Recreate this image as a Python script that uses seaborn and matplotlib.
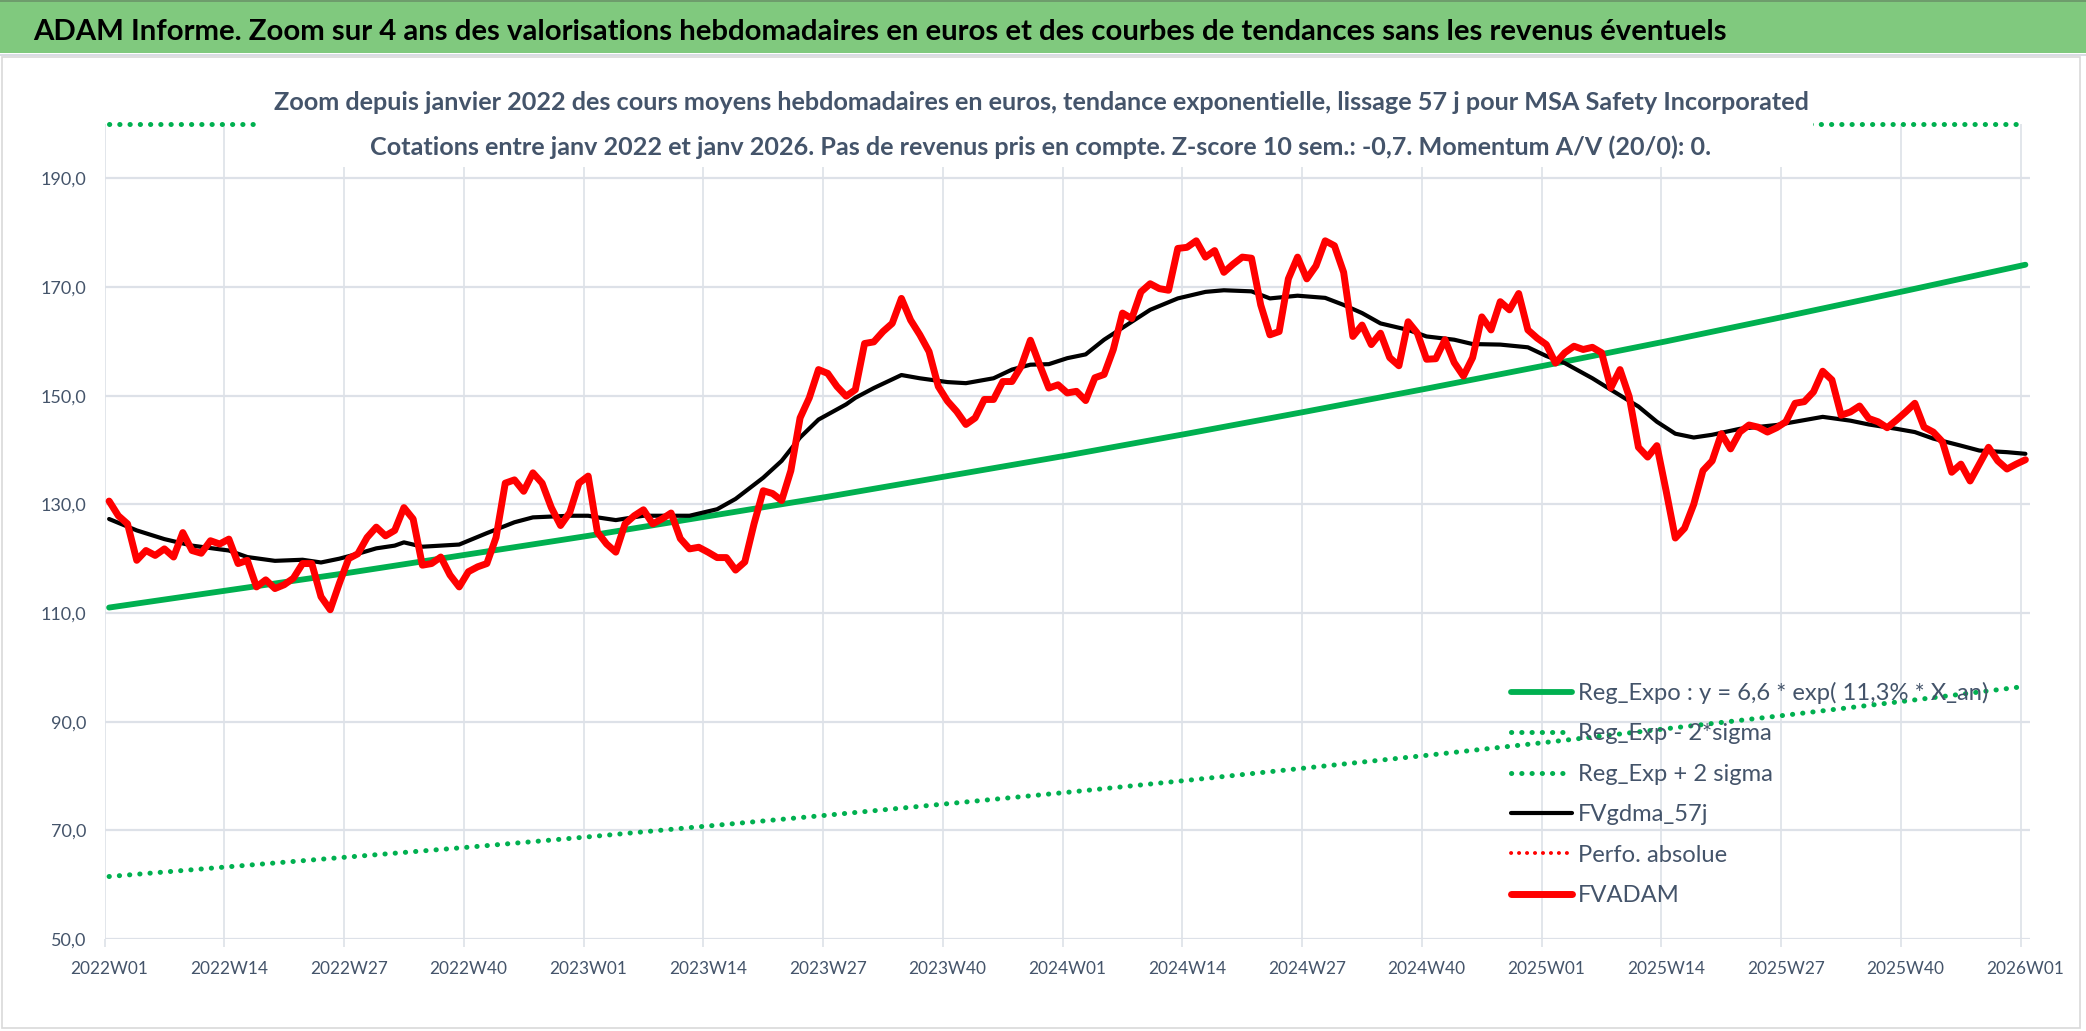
import numpy as np
import matplotlib
matplotlib.use("Agg")
import matplotlib.pyplot as plt
import seaborn as sns
from matplotlib.patches import Rectangle
from matplotlib.lines import Line2D
from matplotlib.ticker import FuncFormatter

# Etiquettes de l'axe des semaines (une toutes les 13 semaines)
tick_labels = ['2022W01', '2022W14', '2022W27', '2022W40', '2023W01', '2023W14', '2023W27',
               '2023W40', '2024W01', '2024W14', '2024W27', '2024W40', '2025W01', '2025W14',
               '2025W27', '2025W40', '2026W01']

# FVADAM : cours moyens hebdomadaires (semaines 0 a 208)
fvadam = [130.6, 127.9, 126.4, 119.7, 121.5, 120.6, 121.8, 120.3, 124.8, 121.5,
          121.0, 123.3, 122.7, 123.6, 119.1, 119.7, 114.8, 116.1, 114.5, 115.2,
          116.4, 119.1, 119.1, 113.0, 110.6, 115.5, 120.0, 120.9, 123.9, 125.8,
          124.2, 125.2, 129.4, 127.3, 118.8, 119.1, 120.3, 117.0, 114.8, 117.6,
          118.5, 119.1, 123.9, 133.9, 134.5, 132.4, 135.8, 133.9, 129.4, 126.1,
          128.5, 133.9, 135.2,
          124.9, 122.7, 121.2, 126.4, 127.9, 129.0, 126.4, 127.3, 128.4, 123.7,
          121.8, 122.1, 121.2, 120.2, 120.2, 117.9, 119.4, 126.4, 132.5, 132.0,
          130.7, 136.2, 145.9, 149.6, 154.8, 154.1, 151.7, 149.9, 151.1, 159.6,
          159.9, 161.8, 163.3, 167.9, 163.9, 161.2, 158.1, 151.7, 149.0, 147.1,
          144.7, 145.9, 149.3, 149.3, 152.6, 152.6, 155.4, 160.2, 155.7, 151.4,
          152.0, 150.5,
          150.8, 149.1, 153.3, 153.9, 158.5, 165.2, 164.2, 169.1, 170.6, 169.7,
          169.4, 177.1, 177.3, 178.5, 175.5, 176.7, 172.7, 174.2, 175.5, 175.3,
          166.7, 161.2, 161.8, 171.5, 175.5, 171.5, 173.9, 178.5, 177.6, 172.7,
          160.9, 163.0, 159.4, 161.5, 157.0, 155.5, 163.6, 161.5, 156.7, 156.8,
          160.3, 156.1, 153.6, 157.0, 164.5, 162.1, 167.3, 165.8, 168.8, 162.1,
          160.6, 159.4,
          156.0, 157.9, 159.1, 158.5, 158.9, 157.9, 151.4, 154.8, 149.8, 140.5,
          138.7, 140.8, 132.5, 123.8, 125.6, 130.0, 136.2, 138.0, 143.0, 140.2,
          143.3, 144.6, 144.2, 143.3, 144.1, 145.2, 148.6, 148.9, 150.7, 154.5,
          152.9, 146.4, 147.0, 148.1, 145.8, 145.2, 144.1, 145.5, 147.0, 148.6,
          144.2, 143.3, 141.5, 135.9, 137.4, 134.3, 137.4, 140.5, 138.0, 136.5,
          137.4, 138.2]

# FVgdma_57j : moyenne lissee (semaines)
gdma_weeks = [0, 3, 6, 9, 13, 15, 18, 21, 23, 25, 27, 29, 31, 32, 34, 38, 39, 41, 44, 46, 50, 52,
              53, 55, 58, 63, 66, 68, 71, 73, 75, 77, 80, 81, 83, 85, 86, 88, 91, 93, 96, 98,
              100, 102, 104, 106, 108, 111, 113, 116, 119, 121, 124, 126, 129, 132, 134, 136,
              138, 141, 143, 146, 148, 151, 154, 156, 158, 161, 163, 166, 168, 170, 172, 174,
              177, 181, 183, 186, 189, 191, 194, 196, 198, 201, 203, 206, 208]
gdma_vals = [127.3, 125.2, 123.6, 122.4, 121.5, 120.3, 119.6, 119.8, 119.3, 120.0, 120.9, 121.9,
             122.4, 123.0, 122.2, 122.6, 123.3, 124.7, 126.7, 127.6, 127.9, 127.9,
             127.6, 127.1, 127.9, 127.9, 129.1, 131.0, 134.9, 138.0, 142.3, 145.6, 148.4,
             149.6, 151.4, 153.0, 153.8, 153.2, 152.5, 152.3, 153.2, 154.8, 155.7, 155.8,
             156.9, 157.6, 160.3, 163.6, 165.8, 167.9, 169.1, 169.4, 169.2, 167.9, 168.4,
             168.0, 166.7, 165.2, 163.3, 162.1, 160.9, 160.3, 159.5, 159.4, 158.9, 157.3,
             156.0, 153.2, 151.1, 148.0, 145.2, 143.0, 142.3, 142.8, 143.9, 144.6, 145.2,
             146.1, 145.4, 144.7, 143.9, 143.3, 142.1, 140.8, 139.9, 139.6, 139.3]

# Regression exponentielle et bandes +/- 2 sigma, relevees a chaque etiquette
reg_expo = [111.0, 114.2, 117.4, 120.8, 124.2, 127.8, 131.4, 135.2, 139.0, 143.0, 147.1,
            151.3, 155.6, 160.0, 164.6, 169.3, 174.1]
reg_minus = [61.5, 63.3, 65.1, 66.9, 68.8, 70.8, 72.8, 74.9, 77.0, 79.2, 81.5, 83.8, 86.2,
             88.7, 91.2, 93.8, 96.5]
reg_plus = [200.3, 206.0, 211.7, 218.1, 224.2, 230.7, 237.2, 244.0, 250.9, 258.2, 265.5,
            273.2, 280.9, 288.6, 297.1, 305.6, 314.1]

legend_labels = ['Reg_Expo : y = 6,6 * exp( 11,3% * X_an)', 'Reg_Exp - 2*sigma',
                 'Reg_Exp + 2 sigma', 'FVgdma_57j', 'Perfo. absolue', 'FVADAM']

title = ("ADAM Informe. Zoom sur 4 ans des valorisations hebdomadaires en euros "
         "et des courbes de tendances sans les revenus éventuels")
sub1 = ("Zoom depuis janvier 2022 des cours moyens hebdomadaires en euros, tendance "
        "exponentielle, lissage 57 j pour MSA Safety Incorporated")
sub2 = ("Cotations entre janv 2022 et janv 2026. Pas de revenus pris en compte. "
        "Z-score 10 sem.: -0,7. Momentum A/V (20/0): 0.")

sns.set_theme(style="white")
plt.rcParams['font.family'] = ['Lato', 'DejaVu Sans']

W, H = 2086, 1031
Y_MAX = 200
slate = '#44546A'
green = '#00B050'
gridc = '#DDE1E8'
dot = (0, (0.05, 2.0))

fig = plt.figure(figsize=(W / 100, H / 100), dpi=100)
ax = fig.add_axes([104.5 / W, 1 - 939 / H, (2030 - 104.5) / W, (939 - 124) / H])
renderer = fig.canvas.get_renderer()


def fit_width(txt, target_px):
    w = txt.get_window_extent(renderer).width
    txt.set_fontsize(txt.get_fontsize() * target_px / w)


weeks = np.arange(len(fvadam))
label_weeks = np.arange(len(tick_labels)) * 13

sns.lineplot(x=label_weeks, y=reg_expo, ax=ax, color=green, linewidth=4.2, zorder=2)
sns.lineplot(x=label_weeks, y=reg_minus, ax=ax, color=green, linewidth=3.6,
             linestyle=dot, dash_capstyle='round', zorder=2)
ax.plot(label_weeks, np.minimum(reg_plus, Y_MAX), color=green, linewidth=3.6,
        linestyle=dot, dash_capstyle='round', zorder=2, clip_on=False)
sns.lineplot(x=gdma_weeks, y=gdma_vals, ax=ax, color='black', linewidth=3.0, zorder=3)
sns.lineplot(x=weeks, y=fvadam, ax=ax, color='#FF0000', linewidth=5.0, zorder=4)

ax.set_xlim(-0.5, len(fvadam) - 0.5)
ax.set_ylim(50, Y_MAX)
ax.set_yticks(np.arange(50, 191, 20))
ax.yaxis.set_major_formatter(FuncFormatter(lambda v, p: f"{v:.1f}".replace('.', ',')))
ax.set_xticks(label_weeks)
ax.set_xticklabels(tick_labels)
ax.set_xticks(label_weeks - 0.5, minor=True)

ax.grid(False)
ax.grid(which='major', axis='y', color=gridc, linewidth=1.6, zorder=0)
ax.grid(which='minor', axis='x', color=gridc, linewidth=1.2, zorder=0)
for s in ax.spines.values():
    s.set_visible(False)
ax.tick_params(axis='x', which='major', length=0, pad=16, labelsize=16, labelcolor=slate)
ax.tick_params(axis='x', which='minor', length=6, width=1.2, color=gridc, bottom=True)
ax.tick_params(axis='y', length=0, pad=13, labelsize=15, labelcolor=slate)
ax.set_xlabel('')
ax.set_ylabel('')

fig.canvas.draw()
xw = ax.get_xticklabels()[0].get_window_extent(renderer).width
ax.tick_params(axis='x', which='major', labelsize=16 * 78 / xw)
yw = ax.get_yticklabels()[-1].get_window_extent(renderer).width
ax.tick_params(axis='y', labelsize=15 * 46 / yw)

# Legende (sans cadre, comme dans Excel)
handles = [
    Line2D([], [], color=green, linewidth=4.2),
    Line2D([], [], color=green, linewidth=3.6, linestyle=dot, dash_capstyle='round'),
    Line2D([], [], color=green, linewidth=3.6, linestyle=dot, dash_capstyle='round'),
    Line2D([], [], color='black', linewidth=3.0),
    Line2D([], [], color='#FF0000', linewidth=2.8, linestyle=dot, dash_capstyle='round'),
    Line2D([], [], color='#FF0000', linewidth=5.0),
]


def make_legend(fs, spacing, top):
    fs_px = fs * 100 / 72
    lg = ax.legend(handles, legend_labels, loc='upper left',
                   bbox_to_anchor=(1511 / W, 1 - top / H), bbox_transform=fig.transFigure,
                   frameon=False, fontsize=fs, handlelength=61 / fs_px,
                   handletextpad=6 / fs_px, labelspacing=spacing, borderpad=0,
                   borderaxespad=0)
    for t in lg.get_texts():
        t.set_color(slate)
    return lg


fs, spacing, top = 19.0, 0.4, 672.0
leg = make_legend(fs, spacing, top)
fig.canvas.draw()
w0 = leg.get_texts()[0].get_window_extent(renderer).width
fs = fs * 410 / w0
leg = make_legend(fs, spacing, top)
fig.canvas.draw()
ys = [H - t.get_window_extent(renderer).y0 for t in leg.get_texts()]
pitch = (ys[-1] - ys[0]) / (len(ys) - 1)
spacing += (40.4 - pitch) / (fs * 100 / 72)
leg = make_legend(fs, spacing, top)
fig.canvas.draw()
bb = leg.get_texts()[0].get_window_extent(renderer)
top += 693 - (H - (bb.y0 + bb.y1) / 2)
leg = make_legend(fs, spacing, top)

# Bandeau de titre
fig.patches.append(Rectangle((0, 1 - 53 / H), 1, 53 / H, transform=fig.transFigure,
                             facecolor='#80C97E', edgecolor='none', zorder=5))
fig.patches.append(Rectangle((0, 1 - 2 / H), 1, 2 / H, transform=fig.transFigure,
                             facecolor='#6E9C6C', edgecolor='none', zorder=5))
fig.patches.append(Rectangle((0, 1 - 56 / H), 1, 2 / H, transform=fig.transFigure,
                             facecolor='#D9DCE3', edgecolor='none', zorder=5))
fig.patches.append(Rectangle((1.5 / W, 1 - 1028 / H), (2080 - 1.5) / W, (1028 - 57) / H,
                             transform=fig.transFigure, facecolor='none',
                             edgecolor='#D9D9D9', linewidth=1.2, zorder=5))
t_title = fig.text(33 / W, 1 - 40 / H, title, ha='left', va='baseline', fontsize=21,
                   weight='bold', color='black', zorder=6)

# Zone de titre du graphique qui masque la bande superieure
fig.patches.append(Rectangle((259 / W, 1 - 167 / H), (1813 - 259) / W, (167 - 70) / H,
                             transform=fig.transFigure, facecolor='white',
                             edgecolor='none', zorder=5))
t_sub1 = fig.text(1041 / W, 1 - 110 / H, sub1, ha='center', va='baseline', fontsize=19,
                  weight='bold', color=slate, zorder=6)
t_sub2 = fig.text(1041 / W, 1 - 155 / H, sub2, ha='center', va='baseline', fontsize=19,
                  weight='bold', color=slate, zorder=6)

fig.canvas.draw()
fit_width(t_title, 1697)
fit_width(t_sub1, 1538)
fit_width(t_sub2, 1341)

fig.savefig('out.png', dpi=100)
